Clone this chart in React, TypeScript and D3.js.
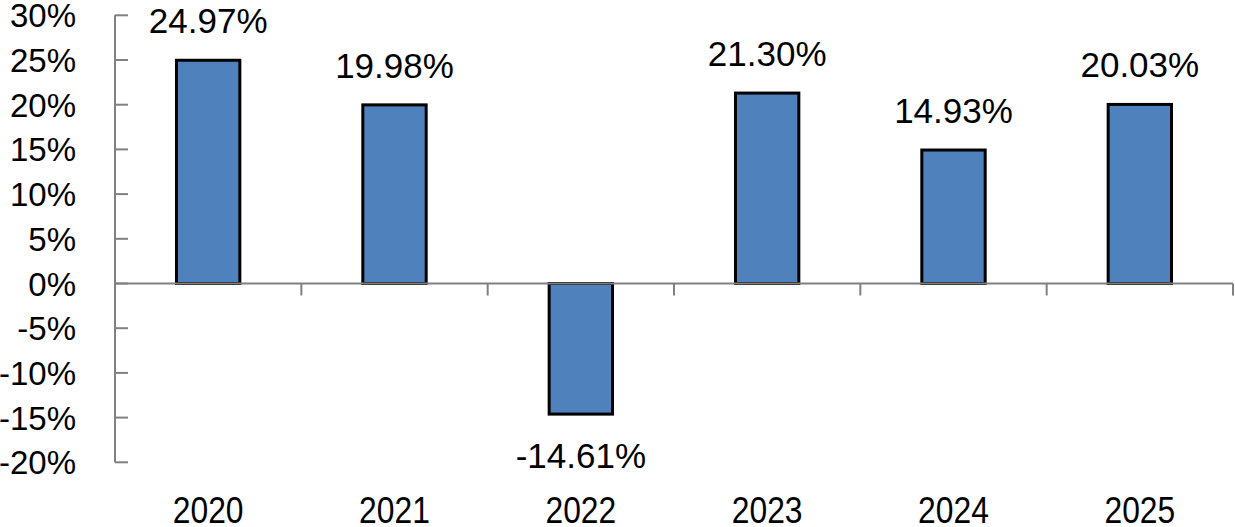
import { useEffect, useRef } from 'react'
import * as d3 from 'd3'

const years = ['2020', '2021', '2022', '2023', '2024', '2025']
const returns = [24.97, 19.98, -14.61, 21.3, 14.93, 20.03]
const yTicks = [-20, -15, -10, -5, 0, 5, 10, 15, 20, 25, 30]

const width = 1235
const height = 527

export default function App() {
  const svgRef = useRef<SVGSVGElement>(null)

  useEffect(() => {
    if (!svgRef.current) return
    const svg = d3.select(svgRef.current)
    svg.selectAll('*').remove()

    const left = 115
    const right = 1233

    const x = d3.scaleBand().domain(years).range([left, right]).padding(0)
    const y = d3.scaleLinear().domain([-20, 30]).range([462.3, 15.3])
    const barW = x.bandwidth() * 0.34
    const font = 'Liberation Sans, Arial, sans-serif'
    const axisColor = '#808080'

    // Y axis line
    svg.append('line')
      .attr('x1', left).attr('x2', left)
      .attr('y1', y(30)).attr('y2', y(-20))
      .style('stroke', axisColor)
      .style('stroke-width', '2px')

    // Y ticks (inward) and labels
    yTicks.forEach(t => {
      svg.append('line')
        .attr('x1', left).attr('x2', left + 13)
        .attr('y1', y(t)).attr('y2', y(t))
        .style('stroke', axisColor)
        .style('stroke-width', '2px')
      svg.append('text')
        .attr('x', 76)
        .attr('y', y(t) + 12)
        .attr('text-anchor', 'end')
        .style('font-family', font)
        .style('font-size', '33px')
        .style('fill', '#000')
        .text(`${t}%`)
    })

    // Bars
    svg.selectAll('.bar')
      .data(returns)
      .join('rect')
      .attr('class', 'bar')
      .attr('x', (_, i) => (x(years[i]) || 0) + x.bandwidth() / 2 - barW / 2)
      .attr('y', d => y(Math.max(0, d)))
      .attr('width', barW)
      .attr('height', d => Math.abs(y(d) - y(0)))
      .style('fill', '#4f81bd')
      .style('stroke', '#000')
      .style('stroke-width', '3px')

    // Zero line
    svg.append('line')
      .attr('x1', left).attr('x2', right)
      .attr('y1', y(0)).attr('y2', y(0))
      .style('stroke', axisColor)
      .style('stroke-width', '2px')

    // X category ticks at band boundaries
    years.forEach(yr => {
      const bx = (x(yr) || 0) + x.bandwidth()
      svg.append('line')
        .attr('x1', bx).attr('x2', bx)
        .attr('y1', y(0)).attr('y2', y(0) + 12)
        .style('stroke', axisColor)
        .style('stroke-width', '2px')
    })

    // X labels
    years.forEach(yr => {
      const cx = (x(yr) || 0) + x.bandwidth() / 2
      svg.append('text')
        .attr('transform', `translate(${cx},523) scale(0.86,1)`)
        .attr('text-anchor', 'middle')
        .style('font-family', font)
        .style('font-size', '37px')
        .style('fill', '#000')
        .text(yr)
    })

    // Data labels
    returns.forEach((v, i) => {
      const cx = (x(years[i]) || 0) + x.bandwidth() / 2
      const ly = v >= 0 ? y(v) - 27 : y(v) + 53.5
      svg.append('text')
        .attr('x', cx)
        .attr('y', ly)
        .attr('text-anchor', 'middle')
        .style('font-family', font)
        .style('font-size', '35px')
        .style('fill', '#000')
        .text(`${v.toFixed(2)}%`)
    })
  }, [])

  return (
    <svg
      ref={svgRef}
      width={width}
      height={height}
      style={{ position: 'absolute', left: 0, top: 0, background: '#fff' }}
    />
  )
}
